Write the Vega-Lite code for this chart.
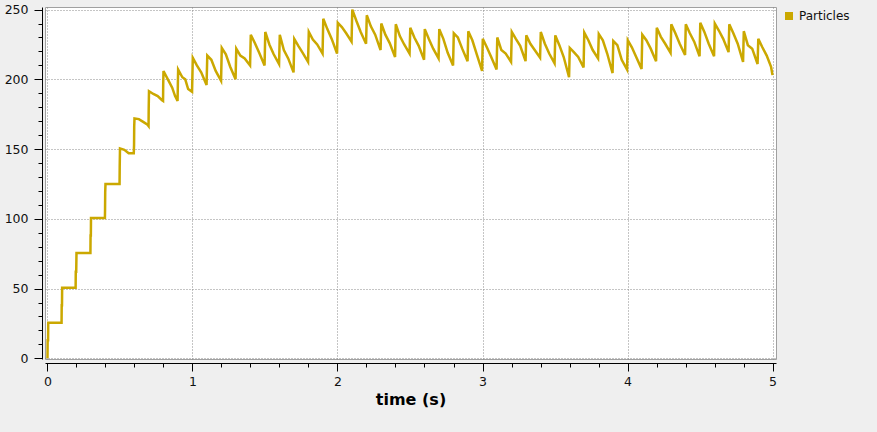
{
  "$schema": "https://vega.github.io/schema/vega-lite/v6.json",
  "autosize": "none",
  "width": 731,
  "height": 352,
  "padding": {"left": 45, "top": 7, "right": 101, "bottom": 73},
  "background": "#efefef",
  "config": {
    "view": {"fill": "white", "stroke": "#a0a0a0", "strokeWidth": 1},
    "font": "DejaVu Sans"
  },
  "data": {"values": [
    {"t":0,"n":0},{"t":0.001,"n":13},{"t":0.004,"n":13},{"t":0.005,"n":25.5},{"t":0.097,"n":25.5},
    {"t":0.098,"n":38},{"t":0.1,"n":38},{"t":0.101,"n":50.5},{"t":0.194,"n":50.5},{"t":0.195,"n":62},
    {"t":0.198,"n":62},{"t":0.2,"n":75.5},{"t":0.296,"n":75.5},{"t":0.297,"n":88},{"t":0.299,"n":88},
    {"t":0.3,"n":100.5},{"t":0.396,"n":100.5},{"t":0.397,"n":107},{"t":0.398,"n":119},{"t":0.4,"n":125},
    {"t":0.497,"n":125},{"t":0.498,"n":137},{"t":0.5,"n":150.5},{"t":0.53,"n":149.5},{"t":0.56,"n":147},
    {"t":0.595,"n":147},{"t":0.597,"n":153},{"t":0.598,"n":166},{"t":0.6,"n":172},{"t":0.63,"n":171.5},
    {"t":0.66,"n":169.5},{"t":0.69,"n":167.5},{"t":0.697,"n":166.5},{"t":0.698,"n":179},{"t":0.7,"n":191.5},
    {"t":0.73,"n":189.5},{"t":0.76,"n":188},{"t":0.79,"n":185},{"t":0.797,"n":184.5},{"t":0.798,"n":196},
    {"t":0.8,"n":206},{"t":0.83,"n":200},{"t":0.86,"n":194},{"t":0.88,"n":188},{"t":0.897,"n":184.5},
    {"t":0.899,"n":196},{"t":0.901,"n":207},{"t":0.93,"n":201.5},{"t":0.95,"n":200},{"t":0.97,"n":193},
    {"t":0.997,"n":191},
    {"t":1.002,"n":215.5},{"t":1.03,"n":210},{"t":1.06,"n":205},{"t":1.097,"n":196},
    {"t":1.102,"n":217},{"t":1.13,"n":214},{"t":1.16,"n":206},{"t":1.197,"n":199},
    {"t":1.202,"n":222.5},{"t":1.23,"n":218},{"t":1.26,"n":209},{"t":1.297,"n":200},
    {"t":1.302,"n":222},{"t":1.33,"n":217},{"t":1.36,"n":215},{"t":1.397,"n":210},
    {"t":1.402,"n":232},{"t":1.43,"n":226},{"t":1.46,"n":219},{"t":1.497,"n":210},
    {"t":1.502,"n":234},{"t":1.53,"n":225},{"t":1.56,"n":218},{"t":1.597,"n":211},
    {"t":1.602,"n":232},{"t":1.63,"n":221},{"t":1.66,"n":215},{"t":1.697,"n":205},
    {"t":1.702,"n":229},{"t":1.73,"n":224},{"t":1.76,"n":219},{"t":1.797,"n":212.5},
    {"t":1.802,"n":234},{"t":1.83,"n":228.5},{"t":1.86,"n":225},{"t":1.897,"n":218.5},
    {"t":1.902,"n":243.5},{"t":1.93,"n":236},{"t":1.96,"n":229},{"t":1.997,"n":218.5},
    {"t":2.002,"n":240.5},{"t":2.03,"n":237.5},{"t":2.06,"n":233},{"t":2.097,"n":227},
    {"t":2.102,"n":250},{"t":2.13,"n":242},{"t":2.16,"n":234},{"t":2.197,"n":225.5},
    {"t":2.202,"n":246},{"t":2.23,"n":238},{"t":2.26,"n":232},{"t":2.297,"n":221},
    {"t":2.302,"n":240},{"t":2.33,"n":232},{"t":2.36,"n":226},{"t":2.397,"n":216},
    {"t":2.402,"n":239.5},{"t":2.43,"n":231},{"t":2.46,"n":225},{"t":2.497,"n":218.5},
    {"t":2.502,"n":237},{"t":2.53,"n":230},{"t":2.56,"n":224},{"t":2.597,"n":214},
    {"t":2.602,"n":236},{"t":2.63,"n":229},{"t":2.66,"n":222},{"t":2.697,"n":215},
    {"t":2.702,"n":236},{"t":2.73,"n":229},{"t":2.76,"n":219},{"t":2.797,"n":210},
    {"t":2.802,"n":233},{"t":2.83,"n":230},{"t":2.86,"n":222},{"t":2.897,"n":213},
    {"t":2.902,"n":234.5},{"t":2.93,"n":228},{"t":2.96,"n":218},{"t":2.997,"n":206},
    {"t":3.002,"n":229},{"t":3.03,"n":223},{"t":3.06,"n":216},{"t":3.097,"n":207},
    {"t":3.102,"n":230},{"t":3.13,"n":221},{"t":3.16,"n":218.5},{"t":3.197,"n":212.5},
    {"t":3.202,"n":234},{"t":3.23,"n":229},{"t":3.26,"n":224},{"t":3.297,"n":213},
    {"t":3.302,"n":231.5},{"t":3.33,"n":225.5},{"t":3.36,"n":221},{"t":3.397,"n":215.5},
    {"t":3.402,"n":234},{"t":3.43,"n":225.5},{"t":3.46,"n":218.5},{"t":3.497,"n":211.5},
    {"t":3.502,"n":231.5},{"t":3.53,"n":224.5},{"t":3.56,"n":216},{"t":3.597,"n":201.5},
    {"t":3.602,"n":222.5},{"t":3.63,"n":219.5},{"t":3.66,"n":216},{"t":3.697,"n":208.5},
    {"t":3.702,"n":233.5},{"t":3.73,"n":228},{"t":3.76,"n":221},{"t":3.797,"n":215},
    {"t":3.802,"n":232.5},{"t":3.83,"n":228},{"t":3.86,"n":218.5},{"t":3.897,"n":204.5},
    {"t":3.902,"n":227.5},{"t":3.93,"n":224.5},{"t":3.96,"n":214},{"t":3.997,"n":207},
    {"t":4.002,"n":228},{"t":4.03,"n":223},{"t":4.06,"n":216},{"t":4.097,"n":207.5},
    {"t":4.102,"n":232},{"t":4.13,"n":228},{"t":4.16,"n":222},{"t":4.197,"n":213},
    {"t":4.202,"n":237},{"t":4.23,"n":230.5},{"t":4.26,"n":225.5},{"t":4.297,"n":219},
    {"t":4.302,"n":239.5},{"t":4.33,"n":233},{"t":4.36,"n":225.5},{"t":4.397,"n":217.5},
    {"t":4.402,"n":239.5},{"t":4.43,"n":233},{"t":4.46,"n":227},{"t":4.497,"n":216.5},
    {"t":4.502,"n":240.5},{"t":4.53,"n":234},{"t":4.56,"n":225.5},{"t":4.597,"n":216.5},
    {"t":4.602,"n":240},{"t":4.63,"n":235},{"t":4.66,"n":229},{"t":4.697,"n":219.5},
    {"t":4.702,"n":239.5},{"t":4.73,"n":233},{"t":4.76,"n":225.5},{"t":4.797,"n":212.5},
    {"t":4.802,"n":234.5},{"t":4.83,"n":224.5},{"t":4.86,"n":222},{"t":4.897,"n":211},
    {"t":4.902,"n":229},{"t":4.93,"n":223},{"t":4.96,"n":217},{"t":4.99,"n":209},{"t":5.0,"n":203}
  ]},
  "mark": {"type": "line", "strokeWidth": 2.5, "interpolate": "linear", "clip": true},
  "encoding": {
    "x": {
      "field": "t", "type": "quantitative",
      "scale": {"domain": [-0.0172, 5.0241], "nice": false, "zero": false},
      "axis": {
        "title": "time (s)",
        "values": [0,0.2,0.4,0.6,0.8,1,1.2,1.4,1.6,1.8,2,2.2,2.4,2.6,2.8,3,3.2,3.4,3.6,3.8,4,4.2,4.4,4.6,4.8,5],
        "labelExpr": "datum.value % 1 === 0 ? format(datum.value, 'd') : ''",
        "offset": 4,
        "tickSize": {"condition": {"test": "datum.value % 1 === 0", "value": 8}, "value": 4},
        "tickColor": "black",
        "domainColor": "black",
        "grid": true,
        "gridOpacity": {"condition": {"test": "datum.value % 1 === 0", "value": 1}, "value": 0},
        "gridDash": [1, 2],
        "gridColor": "#8a8a8a",
        "labelFont": "DejaVu Sans",
        "labelFontSize": 12.5,
        "labelColor": "#111111",
        "labelPadding": 4,
        "labelFlush": false,
        "labelOverlap": false,
        "titleFont": "DejaVu Sans",
        "titleFontSize": 16,
        "titleFontWeight": "bold",
        "titleColor": "black",
        "titlePadding": 4
      }
    },
    "y": {
      "field": "n", "type": "quantitative",
      "scale": {"domain": [-0.5, 251.86], "nice": false, "zero": false},
      "axis": {
        "title": null,
        "values": [0,10,20,30,40,50,60,70,80,90,100,110,120,130,140,150,160,170,180,190,200,210,220,230,240,250],
        "labelExpr": "datum.value % 50 === 0 ? datum.label : ''",
        "offset": 3,
        "tickSize": {"condition": {"test": "datum.value % 50 === 0", "value": 8}, "value": 4},
        "tickColor": "black",
        "domainColor": "black",
        "grid": true,
        "gridOpacity": {"condition": {"test": "datum.value % 50 === 0", "value": 1}, "value": 0},
        "gridDash": [1, 2],
        "gridColor": "#8a8a8a",
        "labelFont": "DejaVu Sans",
        "labelFontSize": 12.5,
        "labelColor": "#111111",
        "labelPadding": 6,
        "labelFlush": false,
        "labelOverlap": false
      }
    },
    "color": {
      "datum": "Particles", "type": "nominal",
      "scale": {"range": ["#cba800"]},
      "legend": {
        "title": null,
        "orient": "none",
        "legendX": 738,
        "legendY": 3,
        "padding": 0,
        "symbolType": "square",
        "symbolSize": 64,
        "labelFont": "DejaVu Sans",
        "labelFontSize": 12,
        "labelColor": "#111111",
        "labelOffset": 4,
        "encode": {"symbols": {"update": {"fill": {"value": "#cba800"}, "stroke": {"value": "#cba800"}, "strokeWidth": {"value": 0}}}}
      }
    }
  }
}
